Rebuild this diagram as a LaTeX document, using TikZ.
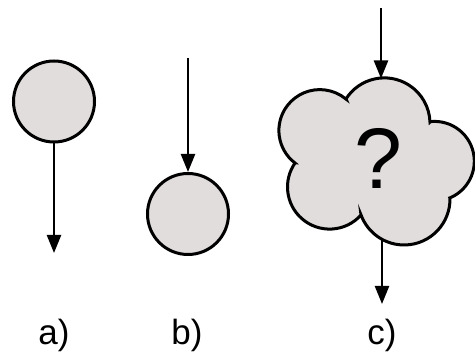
\documentclass[tikz,border=0pt]{standalone}
\usepackage{fontspec}
\setmainfont{Liberation Sans}
\usetikzlibrary{arrows.meta,calc}
\definecolor{blobfill}{RGB}{225,221,220}
\begin{document}
\begin{tikzpicture}[x=1pt,y=1pt,
  blob/.style={draw=black,line width=3pt,fill=blobfill},
  ball/.style={blob,circle,inner sep=0pt,minimum size=81pt},
  arr/.style={line width=2.4pt,-{Triangle[length=18pt,width=14pt]}},
  caption/.style={font=\fontsize{35}{42}\selectfont,anchor=base}]
\useasboundingbox (0,0) rectangle (475,356);

% a) ball with an outgoing arrow
\node[ball] (a) at (54,254.5) {};
\coordinate (aend) at (54,103);
\draw[arr] (a.south) -- (aend);

% b) ball with an incoming arrow
\node[ball] (b) at (188,142) {};
\coordinate (bstart) at (188,298);
\draw[arr] (bstart) -- (b.north);

% c) cloud built from five circular bumps
\draw[blob]
  ($(384.4,232.5)+(147.5:45.6)$) arc[start angle=147.5,end angle=1.9,radius=45.6]
  -- ($(434.5,194.8)+(96:39.8)$) arc[start angle=96,end angle=-69.4,radius=39.8]
  -- ($(404.1,156.9)+(1.4:45.9)$) arc[start angle=1.4,end angle=-159.8,radius=45.9]
  -- ($(329.6,169)+(-41.7:42.1)$) arc[start angle=-41.7,end angle=-214.7,radius=42.1]
  -- ($(319.8,225.5)+(232.7:40.9)$) arc[start angle=232.7,end angle=50.2,radius=40.9]
  -- cycle;
\node[anchor=base,inner sep=0pt,font=\fontsize{86}{100}\selectfont] (q) at (378,167) {?};
\coordinate (ctop) at (381,277.5);
\coordinate (cin) at (381,348);
\coordinate (cbot) at (382,117);
\coordinate (cout) at (382,52);
\draw[arr] (cin) -- (ctop);
\draw[arr] (cbot) -- (cout);

% captions
\node[caption] (la) at (54,11) {a)};
\node[caption] (lb) at (187,11) {b)};
\node[caption] (lc) at (382,11) {c)};
\end{tikzpicture}
\end{document}
